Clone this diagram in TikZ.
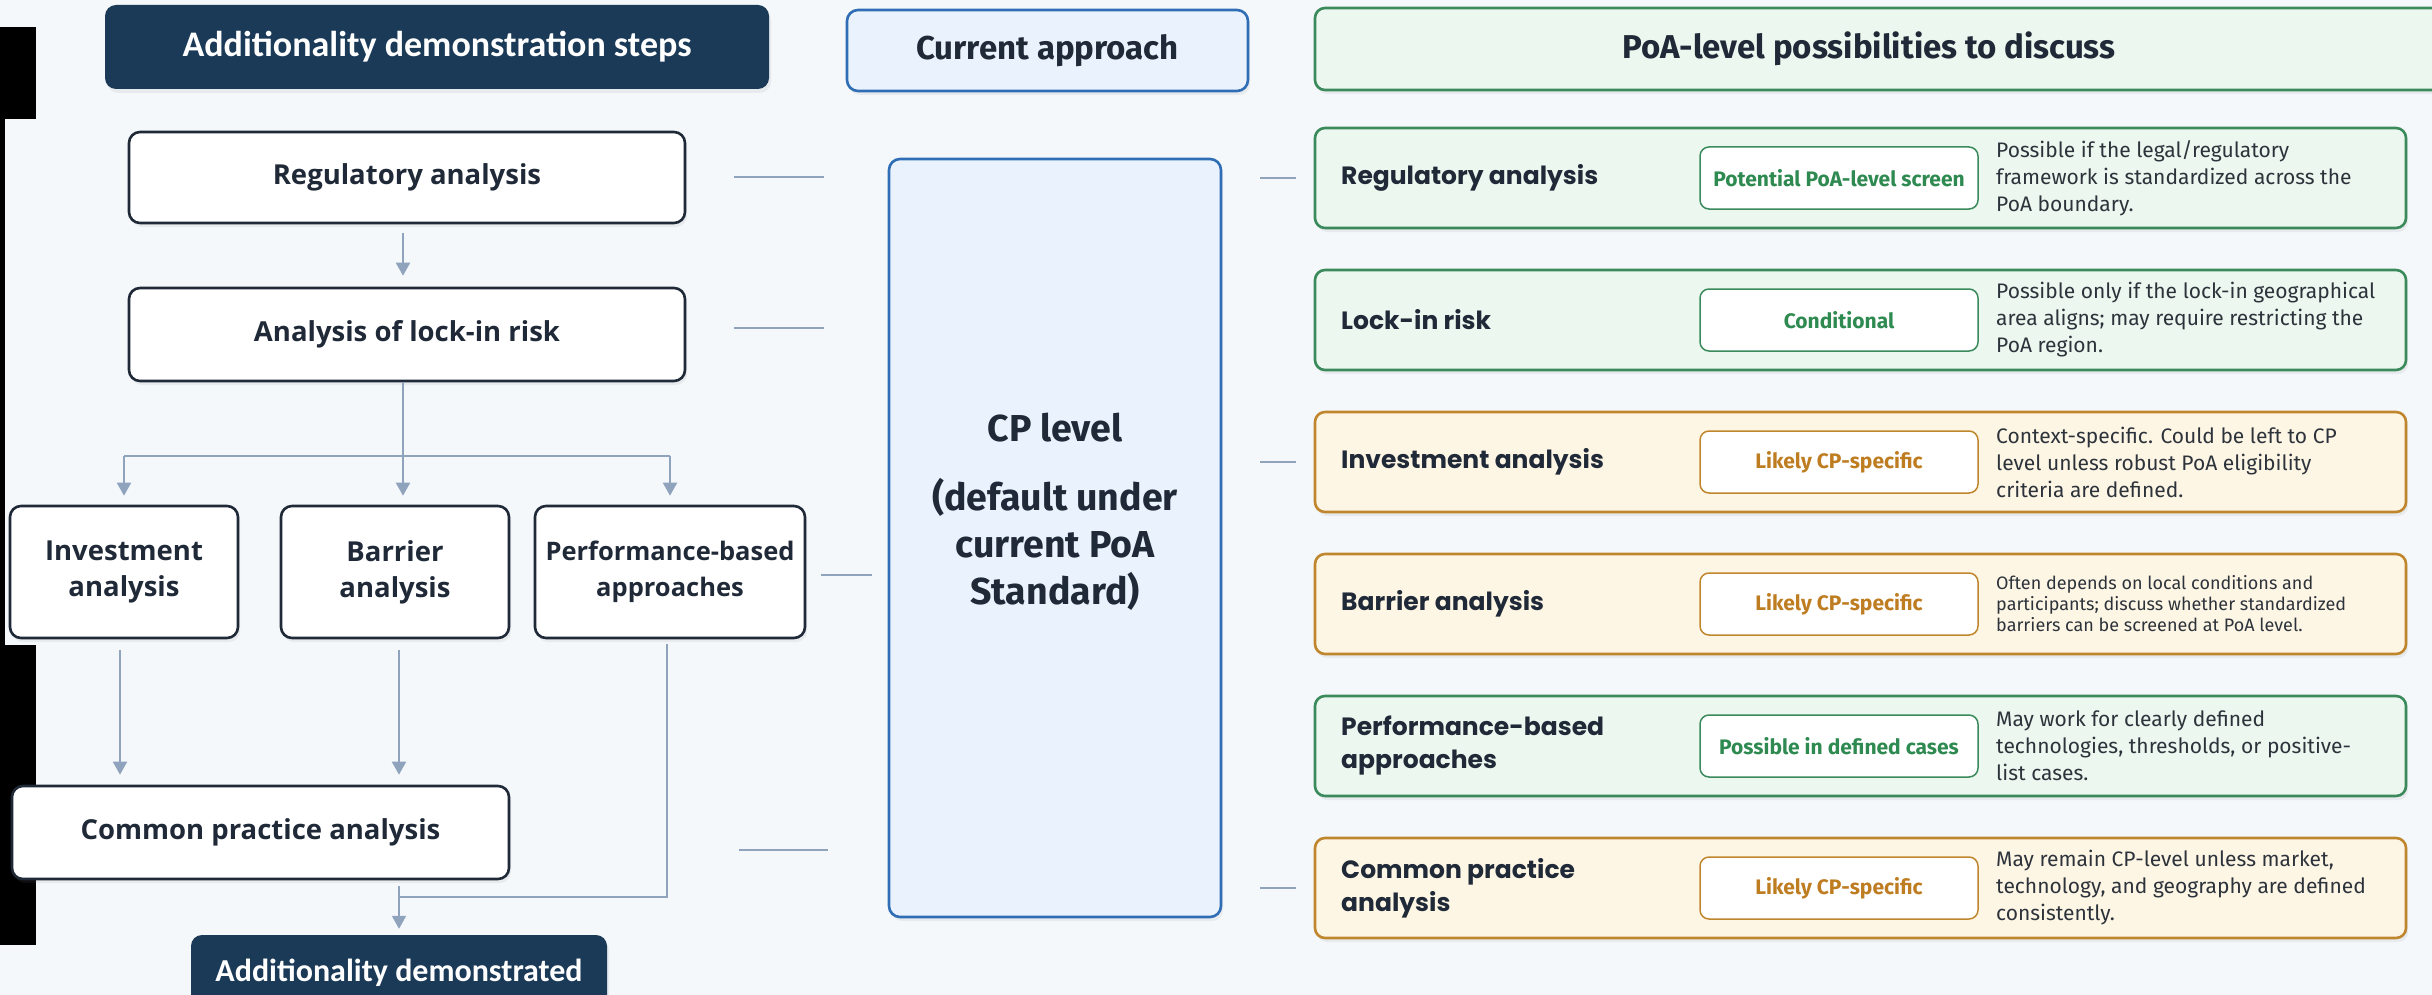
\documentclass[tikz,border=0pt]{standalone}
\usepackage{fontspec}
\setmainfont{Fira Sans}
\newfontfamily\stepfont{Carlito}
\newfontfamily\boxfont{Open Sans}
\newfontfamily\labelfont{Poppins}
\usetikzlibrary{arrows.meta,calc,shadows}

\definecolor{bgcol}{HTML}{F4F8FB}
\definecolor{navy}{HTML}{1B3A57}
\definecolor{ink}{HTML}{1F2937}
\definecolor{desccol}{HTML}{2D333B}
\definecolor{linkcol}{HTML}{8FA3BC}
\definecolor{cpfill}{HTML}{EAF3FD}
\definecolor{cpline}{HTML}{2F6DB5}
\definecolor{grfill}{HTML}{ECF7EF}
\definecolor{grline}{HTML}{3A8A5C}
\definecolor{grtext}{HTML}{2E8A50}
\definecolor{amfill}{HTML}{FEF6E5}
\definecolor{amline}{HTML}{C0862E}
\definecolor{amtext}{HTML}{BF7D22}

\tikzset{
  softshadow/.style={drop shadow={shadow xshift=2pt,shadow yshift=-4pt,opacity=0.10}},
  stepbox/.style={draw=ink,line width=2.6pt,fill=white,rounded corners=11pt,inner sep=2pt,
    align=center,text=ink,font=\boxfont\bfseries\fontsize{27.5}{36}\selectfont,softshadow},
  navybox/.style={fill=navy,rounded corners=11pt,inner sep=2pt,text=white,
    font=\stepfont\bfseries\fontsize{36}{40}\selectfont,softshadow},
  cpbox/.style={draw=cpline,fill=cpfill,line width=2.6pt,rounded corners=11pt,inner sep=2pt,softshadow},
  cptext/.style={align=center,text=ink,font=\bfseries\fontsize{37.5}{47}\selectfont},
  headtext/.style={text=ink,font=\bfseries\fontsize{33}{38}\selectfont},
  rowbox/.style={draw=#1line,fill=#1fill,line width=2.6pt,rounded corners=10pt,
    minimum width=1091pt,minimum height=100pt,softshadow},
  rowlabel/.style={inner sep=0pt,align=left,text=ink,font=\labelfont\bfseries\fontsize{25}{33}\selectfont},
  badge/.style={draw=#1line,fill=white,line width=1.5pt,rounded corners=9pt,
    minimum width=278pt,minimum height=62pt,inner sep=0pt,text=#1text,
    font=\bfseries\fontsize{21}{25}\selectfont},
  rowdesc/.style={inner sep=0pt,align=left,text=desccol,font=\fontsize{21}{27}\selectfont},
  descsmall/.style={font=\fontsize{18}{21}\selectfont},
  link/.style={draw=linkcol,line width=2pt},
  arr/.style={link,-{Triangle[width=14pt,length=13pt]}},
}

\newcommand{\stepnode}{\node[stepbox]}
\newcommand{\poarow}[7]{%
  \node[rowbox=#3] (#1) at (1860.5,#2) {};
  \node[rowlabel,anchor=west] (#1lab) at (1341,#2) {#4};
  \node[badge=#3] (#1tag) at (1839,#2) {#5};
  \node[rowdesc,#7,anchor=west] (#1txt) at (1996,#2) {#6};
}

\begin{document}
\begin{tikzpicture}[x=1pt,y=-1pt]
  \useasboundingbox (0,0) rectangle (2432,995);
  \fill[bgcol] (0,0) rectangle (2432,995);
  \fill[black] (0,27) rectangle (36,119); % 
  \fill[black] (0,119) rectangle (5,645);
  \fill[black] (0,645) rectangle (36,945);

  % left column
  \node[navybox,minimum width=664pt,minimum height=84pt] (steps) at (437,47) {Additionality demonstration steps};
  \stepnode[minimum width=556pt,minimum height=91pt] (reg) at (407,177.5) {Regulatory analysis};
  \stepnode[minimum width=556pt,minimum height=93pt] (lock) at (407,334.5) {Analysis of lock-in risk};
  \stepnode[minimum width=228pt,minimum height=132pt] (inv) at (124,572) {Investment\\analysis};
  \stepnode[minimum width=228pt,minimum height=132pt] (bar) at (395,572) {Barrier\\analysis};
  \stepnode[minimum width=270pt,minimum height=132pt,font=\boxfont\bfseries\fontsize{25.5}{36}\selectfont] (perf) at (670,572) {Performance-based\\approaches};
  \stepnode[minimum width=497pt,minimum height=93pt] (common) at (260.5,832.5) {Common practice analysis};
  \node[navybox,minimum width=416pt,minimum height=76pt,font=\stepfont\bfseries\fontsize{32}{36}\selectfont] (done) at (399,973) {Additionality demonstrated};

  \coordinate (split) at (403,456);
  \draw[arr,shorten <=9pt,shorten >=11pt] (reg.south -| split) -- (lock.north -| split);
  \draw[link] (lock.south -| split) -- (split);
  \draw[arr] (inv.north |- split) -- ([yshift=9pt]inv.north);
  \draw[arr] (split) -- ([yshift=9pt]bar.north -| split);
  \draw[arr] (perf.north |- split) -- ([yshift=9pt]perf.north);
  \draw[link] (inv.north |- split) -- (perf.north |- split);
  \draw[arr,shorten <=11pt,shorten >=10pt] ($(inv.south)+(-4,0)$) -- ($(common.north -| inv.south)+(-4,0)$);
  \draw[arr,shorten <=11pt,shorten >=10pt] ($(bar.south)+(4,0)$) -- ($(common.north -| bar.south)+(4,0)$);
  \coordinate (merge) at (done.north |- 0,897);
  \draw[link] ($(perf.south)+(-3,5)$) |- (merge);
  \draw[arr,shorten <=6pt,shorten >=6pt] (common.south -| done.north) -- (done.north);

  % middle column
  \node[cpbox,minimum width=401pt,minimum height=81pt,headtext] (cur) at (1047.5,50.5) {Current approach};
  \node[cpbox,minimum width=332pt,minimum height=758pt] (cp) at (1055,538) {};
  \node[cptext] (cplbl) at (1055,512) {CP level\\[22pt](default under\\current PoA\\Standard)};

  \draw[link,shorten <=48pt,shorten >=64pt] (reg.east) -- (reg.east -| cp.west);
  \draw[link,shorten <=48pt,shorten >=64pt] ($(lock.east)+(0,-7)$) -- ($(lock.east -| cp.west)+(0,-7)$);
  \draw[link,shorten <=15pt,shorten >=16pt] ($(perf.east)+(0,3)$) -- ($(perf.east -| cp.west)+(0,3)$);
  \draw[link,shorten <=229pt,shorten >=60pt] ($(common.east)+(0,17)$) -- ($(common.east -| cp.west)+(0,17)$);

  % right column
  \draw[draw=grline,fill=grfill,line width=2.6pt,rounded corners=10pt,softshadow] (1315,8) rectangle (2460,90);
  \node[headtext] (poahead) at (1869,49) {PoA-level possibilities to discuss};

  \poarow{rega}{178}{gr}{Regulatory analysis}{Potential PoA-level screen}{Possible if the legal/regulatory\\framework is standardized across the\\PoA boundary.}{}
  \poarow{locka}{320}{gr}{Lock-in risk}{Conditional}{Possible only if the lock-in geographical\\area aligns; may require restricting the\\PoA region.}{}
  \poarow{inva}{462}{am}{Investment analysis}{Likely CP-specific}{Context-specific. Could be left to CP\\level unless robust PoA eligibility\\criteria are defined.}{}
  \poarow{bara}{604}{am}{Barrier analysis}{Likely CP-specific}{Often depends on local conditions and\\participants; discuss whether standardized\\barriers can be screened at PoA level.}{descsmall}
  \poarow{perfa}{746}{gr}{Performance-based\\approaches}{Possible in defined cases}{May work for clearly defined\\technologies, thresholds, or positive-\\list cases.}{}
  \poarow{commona}{888}{am}{Common practice\\analysis}{Likely CP-specific}{May remain CP-level unless market,\\technology, and geography are defined\\consistently.}{}

  \draw[link,shorten <=38pt,shorten >=18pt] (cp.east |- rega.west) -- (rega.west);
  \draw[link,shorten <=38pt,shorten >=18pt] (cp.east |- inva.west) -- (inva.west);
  \draw[link,shorten <=38pt,shorten >=18pt] (cp.east |- commona.west) -- (commona.west);
\end{tikzpicture}
\end{document}
